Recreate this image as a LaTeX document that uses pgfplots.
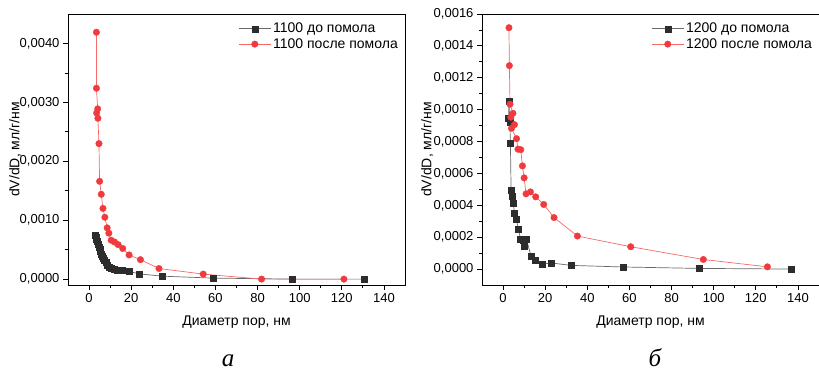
\documentclass[border=0pt]{standalone}
\usepackage{pgfplots}
\pgfplotsset{compat=1.18}
\usepackage{fontspec}
\setmainfont{Liberation Sans}
\newfontfamily\capfont{Liberation Serif}

\definecolor{sq}{RGB}{45,45,45}
\definecolor{sqline}{RGB}{105,105,105}
\definecolor{rd}{RGB}{240,58,62}
\definecolor{rdline}{RGB}{245,105,105}

\pgfplotsset{
 myaxis/.style={
  scale only axis, width=337pt, height=271pt, anchor=south west,
  xmin=-10, xmax=150, xtick={0,20,...,140}, minor x tick num=1, minor y tick num=1,
  tick pos=left, tick align=outside, major tick length=5pt, minor tick length=3pt,
  axis line style={line width=0.9pt}, every tick/.style={line width=0.8pt, black},
  scaled y ticks=false,
  y tick label style={/pgf/number format/.cd, fixed, fixed zerofill, precision=4, use comma, assume math mode=true},
  x tick label style={/pgf/number format/assume math mode=true},
  tick label style={font=\fontsize{13}{15}\selectfont},
  label style={font=\fontsize{14}{16}\selectfont},
  xlabel={Диаметр пор, нм}, ylabel={dV/dD, мл/г/нм},
  xlabel style={at={(axis description cs:0.5,-0.136)}, anchor=center},
  legend style={draw=none, fill=none, at={(1,1)}, anchor=north east, xshift=-2pt, yshift=-5pt, font=\fontsize{14}{16}\selectfont, row sep=0pt},
  legend cell align=left,
  legend image code/.code={\draw[mark repeat=2,mark phase=2] plot coordinates {(0pt,0pt)(16pt,0pt)(32pt,0pt)};},
 },
 blkser/.style={color=sqline, line width=0.7pt, mark=square*, mark size=3pt, mark options={fill=sq, draw=sq, line width=0.3pt}},
 redser/.style={color=rdline, line width=0.7pt, mark=*, mark size=3.3pt, mark options={fill=rd, draw=rd, line width=0.3pt}},
}

\begin{document}
\begin{tikzpicture}
\useasboundingbox (0pt,0pt) rectangle (819pt,370pt);
\begin{axis}[myaxis, at={(68pt,85pt)},
  ymin=-0.0001, ymax=0.0045, ytick={0,0.001,0.002,0.003,0.004},
  ylabel style={at={(axis description cs:-0.157,0.5)}, anchor=center}]
\addplot[blkser] coordinates {
(2.9,0.00074) (3.2,0.00072) (3.5,0.00068) (3.9,0.00064) (4.3,0.00059) (4.7,0.00055)
(5.1,0.00051) (5.5,0.00047) (5.9,0.00043) (6.3,0.00039) (6.8,0.00035) (7.3,0.00032)
(8.0,0.00028) (8.8,0.00024) (9.6,0.00021) (10.6,0.00018) (11.8,0.00017) (13.4,0.00016)
(15.7,0.000145) (19.2,0.00013) (23.6,0.00009) (34.6,0.00005) (59.0,0.000017)
(96.4,0.0000) (130.8,0.0000)};
\addlegendentry{1100 до помола}
\addplot[redser] coordinates {
(3.5,0.00419) (3.5,0.00324) (4.1,0.00289) (3.6,0.00282) (4.2,0.00273) (4.7,0.00230)
(5.0,0.00166) (5.8,0.00144) (6.6,0.00120) (7.5,0.00105) (8.6,0.00087) (9.4,0.00078)
(10.5,0.00066) (12.1,0.00063) (13.8,0.000585) (16.0,0.00052) (19.0,0.00041)
(24.4,0.00033) (33.2,0.00018) (54.2,0.000085) (81.9,0.0) (121.0,0.0)};
\addlegendentry{1100 после помола}
\end{axis}

\begin{axis}[myaxis, at={(482pt,85pt)},
  ymin=-0.0001, ymax=0.0016, ytick={0,0.0002,...,0.0016},
  ylabel style={at={(axis description cs:-0.163,0.5)}, anchor=center}]
\addplot[blkser] coordinates {
(2.6,0.000944) (2.8,0.001056) (3.2,0.000923) (3.5,0.000787) (3.8,0.000497) (4.3,0.000455)
(4.9,0.000413) (5.4,0.000351) (6.2,0.000313) (7.3,0.000251) (8.3,0.000188) (9.5,0.000184)
(10.2,0.000146) (11.1,0.000188) (13.3,0.000079) (15.2,0.000054) (18.4,0.000031)
(23.0,0.000038) (32.3,0.000023) (57.0,0.000013) (93.3,0.000004) (136.7,0.0)};
\addlegendentry{1200 до помола}
\addplot[redser] coordinates {
(2.8,0.001514) (3.0,0.001276) (3.3,0.001034) (4.7,0.000977) (3.7,0.000952) (5.4,0.000906)
(4.0,0.000883) (6.4,0.000818) (7.1,0.000752) (8.4,0.000749) (9.2,0.000647) (10.0,0.000572)
(10.9,0.000472) (13.0,0.000484) (15.5,0.000453) (19.3,0.000405) (24.2,0.000323)
(35.3,0.000207) (60.6,0.000140) (95.1,0.000060) (125.5,0.000014)};
\addlegendentry{1200 после помола}
\end{axis}

\node[anchor=base, inner sep=0pt] at (228pt,4pt) {\capfont\itshape\fontsize{25}{27}\selectfont а};
\node[anchor=base, inner sep=0pt] at (655pt,4pt) {\capfont\itshape\fontsize{25}{27}\selectfont б};
\end{tikzpicture}
\end{document}
